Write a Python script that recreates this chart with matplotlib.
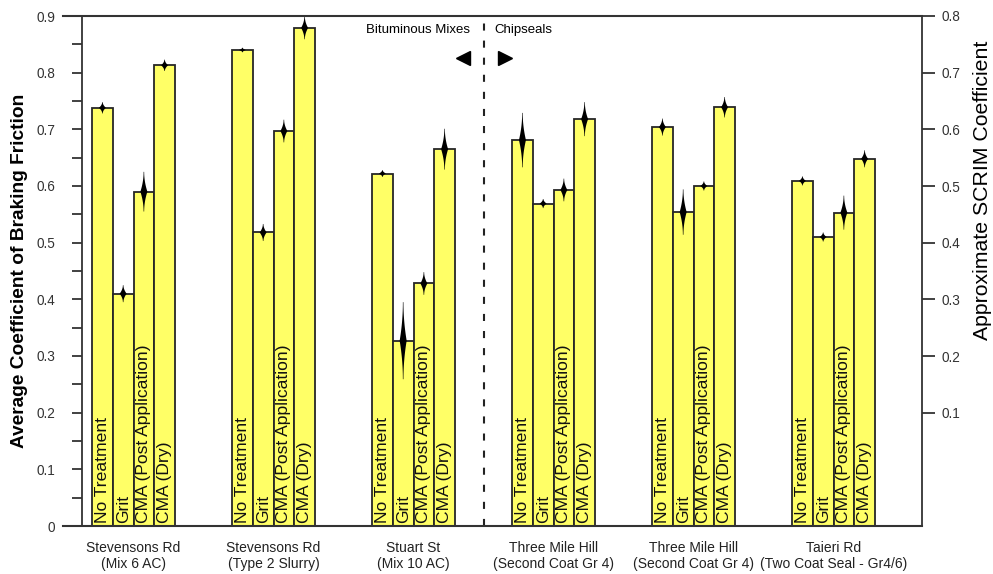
import numpy as np
import matplotlib.pyplot as plt

plt.rcParams['font.family'] = ['Liberation Sans', 'DejaVu Sans']

sites = ['Stevensons Rd\n(Mix 6 AC)', 'Stevensons Rd\n(Type 2 Slurry)', 'Stuart St\n(Mix 10 AC)',
         'Three Mile Hill\n(Second Coat Gr 4)', 'Three Mile Hill\n(Second Coat Gr 4)',
         'Taieri Rd\n(Two Coat Seal - Gr4/6)']
treatments = ['No Treatment', 'Grit', 'CMA (Post Application)', 'CMA (Dry)']

no_treatment = [0.738, 0.840, 0.622, 0.681, 0.704, 0.609]
grit = [0.410, 0.518, 0.327, 0.569, 0.554, 0.510]
cma_post = [0.590, 0.697, 0.428, 0.593, 0.600, 0.553]
cma_dry = [0.813, 0.879, 0.665, 0.718, 0.739, 0.648]

# half spread of the spindles
err_no_treatment = [0.010, 0.004, 0.006, 0.048, 0.015, 0.008]
err_grit = [0.015, 0.015, 0.068, 0.008, 0.040, 0.008]
err_cma_post = [0.035, 0.020, 0.020, 0.020, 0.008, 0.030]
err_cma_dry = [0.010, 0.020, 0.036, 0.030, 0.018, 0.015]

series = [no_treatment, grit, cma_post, cma_dry]
errors = [err_no_treatment, err_grit, err_cma_post, err_cma_dry]

fig = plt.figure(figsize=(9.93, 5.74), dpi=100)
ax = fig.add_axes([82 / 993, 1 - 526 / 574, 840 / 993, 510 / 574])

x = np.arange(len(sites))
w = 0.148
dw = 0.023
t = np.linspace(-1, 1, 41)
for i, (vals, errs) in enumerate(zip(series, errors)):
    xs = x + (i - 1.5) * w
    ax.bar(xs, vals, w, color='#FFFF66', edgecolor='#262626', linewidth=1.3, zorder=2)
    for xi, v, e in zip(xs, vals, errs):
        # spindle: concave diamond, widest at the bar top
        hw = dw * (1 - np.abs(t)) ** 2 + 0.002
        py = v + e * t
        ax.fill(np.concatenate([xi + hw, xi - hw[::-1]]), np.concatenate([py, py[::-1]]),
                color='black', zorder=3, lw=0)
        ax.text(xi, 0.006, treatments[i], rotation=90, ha='center', va='bottom',
                fontsize=12.6, color='#111111', zorder=4)

ax.set_xlim(-0.368, 5.632)
ax.set_ylim(0, 0.9)
ax.set_xticks(x, sites, fontsize=10, color='#222222')
ax.tick_params(axis='x', length=0, pad=11)
ax.set_yticks(np.arange(0, 0.91, 0.1))
ax.set_yticklabels(['0'] + ['%.1f' % v for v in np.arange(0.1, 0.91, 0.1)])
ax.set_yticks(np.arange(0.05, 0.9, 0.1), minor=True)
ax.tick_params(axis='y', which='both', length=7.2, width=1.3, color='#333333',
               labelsize=9.8, labelcolor='#333333', pad=12)
for s in ['top', 'bottom', 'right']:
    ax.spines[s].set_visible(False)
ax.spines['left'].set_linewidth(1.3)
ax.spines['left'].set_color('#333333')
for yy in [0, 0.9]:
    ax.plot([-0.0226, 1], [yy, yy], transform=ax.get_yaxis_transform(), clip_on=False,
            color='#333333', lw=1.5, zorder=5)

ax2 = ax.twinx()
ax2.set_ylim(-0.1, 0.8)
ax2.set_yticks(np.arange(0.1, 0.81, 0.1))
ax2.set_yticklabels(['%.1f' % v for v in np.arange(0.1, 0.81, 0.1)])
ax2.tick_params(axis='y', length=9.4, width=1.3, color='#333333', labelsize=9.8,
                labelcolor='#333333', pad=5)
for s in ['top', 'bottom', 'left']:
    ax2.spines[s].set_visible(False)
ax2.spines['right'].set_linewidth(1.3)
ax2.spines['right'].set_color('#333333')

divider = 2.5
ax.axvline(divider, color='#222222', lw=1.5, ls=(0, (3.4, 4.8)), zorder=1)
ax.text(divider - 0.097, 0.875, 'Bituminous Mixes', ha='right', va='center', fontsize=9.5)
ax.text(divider + 0.075, 0.875, 'Chipseals', ha='left', va='center', fontsize=9.5)
ax.plot([divider - 0.15], [0.826], marker='<', ms=10, color='black', ls='none')
ax.plot([divider + 0.15], [0.826], marker='>', ms=10, color='black', ls='none')

fig.text(20 / 993, 1 - 271 / 574, 'Average Coefficient of Braking Friction', rotation=90,
         ha='center', va='center', fontsize=13.8, fontweight='bold')
fig.text(982 / 993, 1 - 190 / 574, 'Approximate SCRIM Coefficient', rotation=90,
         ha='center', va='center', fontsize=15.3)

fig.savefig('out.png', dpi=100)
